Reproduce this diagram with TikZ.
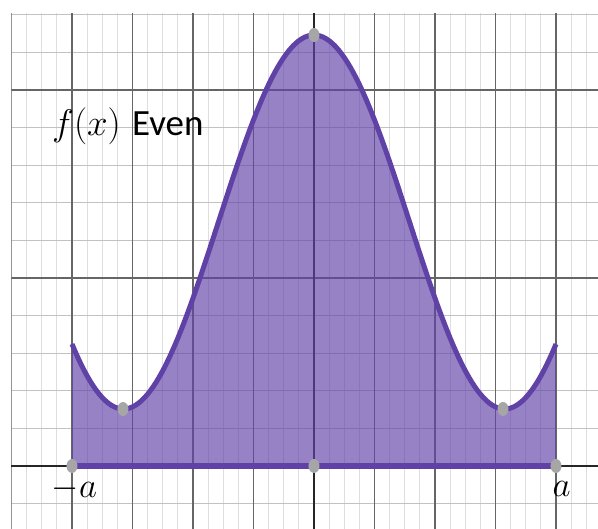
\RequirePackage{fix-cm}
\documentclass[tikz,border=0pt]{standalone}
\usepackage{fontspec}
\setmainfont{Carlito}
\usetikzlibrary{shapes.geometric}
\definecolor{purp}{HTML}{6042A6}
\definecolor{dotgray}{HTML}{A6A6A6}
\tikzset{
  minorv/.style={draw=black!13, line width=1.2pt},
  minorh/.style={draw=black!24, line width=1.1pt},
  majorl/.style={draw=black!60, line width=1.1pt},
  axisl/.style={draw=black!85, line width=1.3pt},
  dotnode/.style={ellipse, fill=dotgray, draw=none, minimum width=11pt, minimum height=14pt, inner sep=0pt},
  lbl/.style={inner sep=0pt, font=\fontsize{35}{40}\selectfont},
  titlelbl/.style={inner sep=0pt, font=\fontsize{37}{42}\selectfont},
  declare function={ff(\x)=431+(\x/60.5)^2*(-92.21+(\x/60.5)^2*(7.4573+(\x/60.5)^2*(-0.22479+(\x/60.5)^2*0.0027165)));}
}
\begin{document}
\begin{tikzpicture}[x=1pt,y=1pt]
\useasboundingbox (-314,-63) rectangle (284,466);
% grid
\begin{scope}
\clip (-302.5,-63) rectangle (284,453);
\foreach \k in {0,...,39}{
  \draw[minorv] ({-302.5+\k*15.125},-63) -- ({-302.5+\k*15.125},453);
}
\foreach \m in {-1,...,12}{
  \draw[minorh] (-302.5,{\m*37.6}) -- (284,{\m*37.6});
}
\foreach \k in {0,...,9}{
  \draw[majorl] ({-302.5+\k*60.5},-63) -- ({-302.5+\k*60.5},453);
}
\draw[majorl] (-302.5,188) -- (284,188);
\draw[majorl] (-302.5,376) -- (284,376);
\end{scope}
\coordinate (xl) at (-302.5,0);
\coordinate (xr) at (284,0);
\coordinate (yb) at (0,-63);
\coordinate (yt) at (0,453);
\draw[axisl] (xl) -- (xr);
\draw[axisl] (yb) -- (yt);
% area
\coordinate (A) at (-242,0);
\coordinate (B) at (242,0);
\fill[purp, opacity=0.66] (A) -- plot[domain=-242:242, samples=161] (\x,{ff(\x)}) -- (B) -- cycle;
\draw[purp, line width=5pt] plot[domain=-242:242, samples=161] (\x,{ff(\x)});
\draw[purp, line width=6pt] (A) -- (B);
% dots
\node[dotnode] (da) at (A) {};
\node[dotnode] (db) at (B) {};
\node[dotnode] (d0) at (0,0) {};
\node[dotnode] (dmin1) at (-191,{ff(-191)}) {};
\node[dotnode] (dmin2) at (189,{ff(189)}) {};
\node[dotnode] (dtop) at (0,431) {};
% labels
\node[lbl, anchor=base] (la) at (-239.5,-32) {$-a$};
\node[lbl, anchor=base] (lb) at (247.5,-31) {$a$};
\node[titlelbl, anchor=base west] (title) at (-262,330) {$f(x)$\hspace{3pt} Even};
\end{tikzpicture}
\end{document}
